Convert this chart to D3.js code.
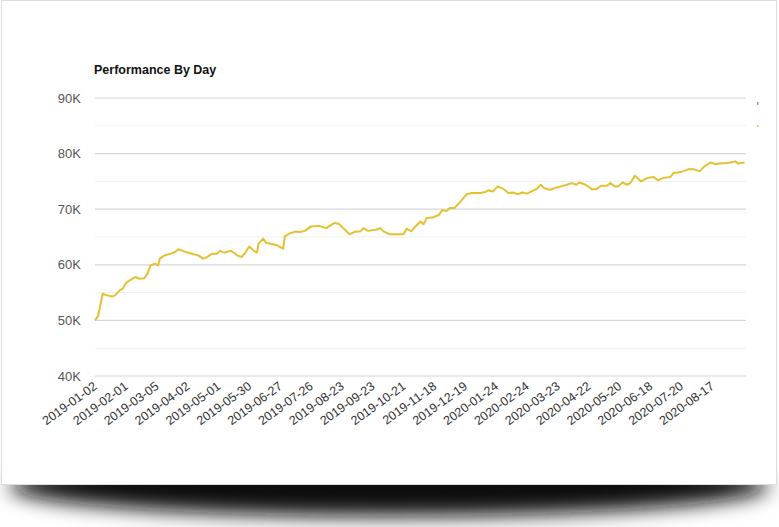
<!DOCTYPE html>
<html>
<head>
<meta charset="utf-8">
<script src="https://cdn.jsdelivr.net/npm/d3@7"></script>
<style>
  body { margin: 0; background: #fff; }
  svg { display: block; font-family: "Liberation Sans", Arial, sans-serif; }
</style>
</head>
<body>
<svg id="chart" width="779" height="527"></svg>
<script>
// =========== DATA ===========
// trading-day index of each sample (0 = 2019-01-02)
const dayIndex = [0, 2, 5, 8, 11, 13, 16, 18, 20, 23, 26, 29, 32, 34, 36, 39, 41, 42, 45, 49, 52, 54, 57, 60, 64, 67, 70, 72, 76, 79, 81, 84, 88, 91, 92, 95, 97, 100, 103, 105, 106, 109, 111, 114, 118, 122, 123, 126, 130, 133, 136,
  140, 145, 150, 155, 158, 161, 165, 169, 172, 174, 177, 182, 185, 187, 191, 196, 200, 202, 205, 207, 211, 213, 215, 219, 223, 225, 228, 230, 233, 237, 241, 244, 250, 253, 255, 258,
  261, 265, 268, 271, 274, 277, 280, 283, 286, 289, 291, 295, 298, 302, 306, 309, 312, 314, 318, 322, 325, 328, 332, 334, 337, 339, 342, 345, 347, 350, 354, 358, 362, 365, 368, 373, 375, 378, 381, 385, 388, 392, 395, 399, 402, 405, 409, 412, 415, 417, 421];
const values = [50.0, 50.8, 54.8, 54.5, 54.3, 54.5, 55.4, 55.7, 56.7, 57.3, 57.8, 57.5, 57.6, 58.4, 59.9, 60.2, 59.9, 61.1, 61.7, 62.0, 62.3, 62.8, 62.5, 62.2, 61.9, 61.7, 61.1, 61.3, 62.0, 62.0, 62.5, 62.2, 62.5, 62.0, 61.7, 61.4, 62.0, 63.3, 62.5, 62.2, 63.8, 64.7, 63.9, 63.8, 63.5, 62.9, 65.1, 65.6, 66.0, 65.9, 66.1,
  66.9, 67.0, 66.6, 67.5, 67.4, 66.6, 65.5, 66.0, 66.0, 66.6, 66.1, 66.3, 66.6, 66.0, 65.5, 65.5, 65.5, 66.5, 66.0, 66.7, 67.8, 67.3, 68.4, 68.5, 69.0, 69.8, 69.7, 70.2, 70.2, 71.4, 72.7, 72.9, 72.9, 73.1, 73.4, 73.2,
  74.1, 73.6, 72.9, 73.0, 72.7, 73.0, 72.8, 73.2, 73.6, 74.4, 73.8, 73.5, 73.8, 74.1, 74.4, 74.7, 74.4, 74.8, 74.4, 73.6, 73.6, 74.2, 74.2, 74.7, 74.1, 74.1, 74.8, 74.4, 74.7, 76.0, 75.0, 75.6, 75.8, 75.2, 75.6, 75.8, 76.5, 76.6, 76.8, 77.2, 77.2, 76.8, 77.7, 78.4, 78.1, 78.2, 78.3, 78.4, 78.6, 78.2, 78.4].map(v => v * 1000);
const lastDay = 422;
const tickDays = [0, 20, 40, 60, 80, 100, 120, 140, 160, 180, 200, 220, 240, 260, 280, 300, 320, 340, 360, 380, 400];
const tickLabels = ["2019-01-02", "2019-02-01", "2019-03-05", "2019-04-02", "2019-05-01", "2019-05-30", "2019-06-27", "2019-07-26", "2019-08-23", "2019-09-23", "2019-10-21", "2019-11-18", "2019-12-19", "2020-01-24", "2020-02-24", "2020-03-23", "2020-04-22", "2020-05-20", "2020-06-18", "2020-07-20", "2020-08-17"];
const yTicks = [40000, 50000, 60000, 70000, 80000, 90000];
const yMinor = [45000, 55000, 65000, 75000, 85000];

// =========== SETUP ===========
const svg = d3.select('#chart');
const margin = { left: 95, right: 746, top: 98, bottom: 376 };

// card shadow
const defs = svg.append('defs');
defs.append('filter').attr('id', 'blur').attr('x', '-20%').attr('y', '-200%').attr('width', '140%').attr('height', '500%')
  .append('feGaussianBlur').attr('stdDeviation', 10);
svg.append('ellipse').attr('cx', 389).attr('cy', 486).attr('rx', 380).attr('ry', 30)
  .attr('fill', '#111').attr('filter', 'url(#blur)');
svg.append('rect').attr('x', 1.5).attr('y', 0.5).attr('width', 775).attr('height', 484)
  .attr('fill', '#fff').attr('stroke', '#ddd');

const x = d3.scaleLinear().domain([0, lastDay]).range([margin.left, margin.right]);
const y = d3.scaleLinear().domain([40000, 90000]).range([margin.bottom, margin.top]);

// =========== GRID ===========
svg.append('g').selectAll('line').data(yMinor).join('line')
  .attr('x1', margin.left).attr('x2', margin.right)
  .attr('y1', d => y(d)).attr('y2', d => y(d))
  .attr('stroke', '#efefef').attr('stroke-width', 1);
svg.append('g').selectAll('line').data(yTicks).join('line')
  .attr('x1', margin.left).attr('x2', margin.right)
  .attr('y1', d => y(d)).attr('y2', d => y(d))
  .attr('stroke', '#d6d6d6').attr('stroke-width', 1.2);

// y labels
svg.append('g').selectAll('text').data(yTicks).join('text')
  .attr('x', 81).attr('y', d => y(d) + 4.5)
  .attr('text-anchor', 'end').attr('font-size', 13).attr('fill', '#555')
  .text(d => d3.format('d')(d / 1000) + 'K');

// x labels
svg.append('g').selectAll('text').data(tickDays).join('text')
  .attr('text-anchor', 'end').attr('font-size', 12.5).attr('fill', '#333')
  .attr('transform', d => `translate(${x(d) + 3},${388}) rotate(-36)`)
  .text((d, i) => tickLabels[i]);

// =========== LINE ===========
const line = d3.line().x((d, i) => x(dayIndex[i])).y(d => y(d));
svg.append('path').datum(values)
  .attr('fill', 'none').attr('stroke', '#e3c132').attr('stroke-width', 2)
  .attr('stroke-linejoin', 'round').attr('d', line);

// title
svg.append('text').attr('x', 94).attr('y', 74)
  .attr('font-size', 12.5).attr('font-weight', 'bold').attr('fill', '#111')
  .text('Performance By Day');

// legend remnants at right edge
svg.append('rect').attr('x', 757).attr('y', 102).attr('width', 1.5).attr('height', 3).attr('fill', '#999');
svg.append('rect').attr('x', 757).attr('y', 125).attr('width', 1.5).attr('height', 2).attr('fill', '#e3c132');
</script>
</body>
</html>
